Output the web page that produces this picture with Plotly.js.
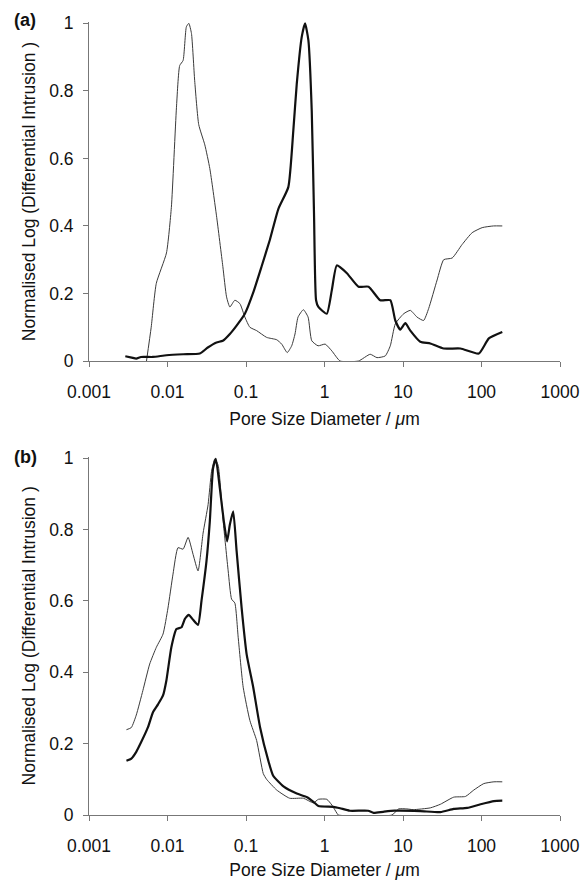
<!DOCTYPE html>
<html>
<head>
<meta charset="utf-8">
<script src="https://cdn.plot.ly/plotly-3.0.1.min.js"></script>
<style>html,body{margin:0;padding:0;background:#fff;}#chart{width:585px;height:880px;}</style>
</head>
<body>
<div id="chart"></div>
<script>
// Tick labels
const xTickVals = [0.001, 0.01, 0.1, 1, 10, 100, 1000];
const xTickText = ["0.001", "0.01", "0.1", "1", "10", "100", "1000"];
const yTickVals = [0, 0.2, 0.4, 0.6, 0.8, 1];
const yTickText = ["0", "0.2", "0.4", "0.6", "0.8", "1"];

// Panel (a) thin curve
const aThinX = [0.0054,0.0062,0.0072,0.0097,0.0112,0.0130,0.0143,0.0158,0.0174,0.0187,0.0202,0.0222,0.0250,0.0299,0.0346,0.0421,0.0507,0.0565,0.0623,0.0721,0.0836,0.0968,0.112,0.1365,0.183,0.246,0.285,0.335,0.382,0.421,0.460,0.538,0.618,0.688,0.828,1.02,1.24,1.58,2.71,3.82,4.66,5.94,6.89,7.98,10.2,12.4,15.1,18.3,21.2,27.2,33.0,42.3,56.6,76.0,102,142,184];
const aThinY = [0,0.10,0.23,0.32,0.455,0.75,0.875,0.89,0.99,1.0,0.97,0.83,0.70,0.64,0.57,0.43,0.28,0.19,0.16,0.18,0.17,0.13,0.10,0.09,0.07,0.063,0.05,0.025,0.045,0.08,0.13,0.152,0.13,0.06,0.045,0.05,0.03,0,0,0.02,0.01,0.015,0.045,0.11,0.14,0.15,0.13,0.12,0.155,0.24,0.30,0.305,0.345,0.38,0.395,0.40,0.40];

// Panel (a) thick curve
const aThickX = [0.0029,0.0035,0.0040,0.0046,0.0065,0.0097,0.0158,0.0258,0.0326,0.0421,0.0507,0.0623,0.0759,0.0968,0.1225,0.158,0.202,0.258,0.346,0.400,0.443,0.513,0.565,0.623,0.688,0.736,0.781,0.836,1.07,1.24,1.435,1.93,2.71,3.64,5.13,6.89,7.98,9.24,10.7,12.4,16.6,22.3,33.0,53.9,92.4,124,184];
const aThickY = [0.014,0.010,0.007,0.012,0.012,0.017,0.020,0.022,0.040,0.055,0.060,0.080,0.105,0.140,0.200,0.280,0.360,0.450,0.515,0.680,0.820,0.960,1.000,0.950,0.740,0.430,0.180,0.160,0.140,0.210,0.283,0.260,0.220,0.220,0.180,0.180,0.120,0.093,0.112,0.090,0.057,0.052,0.037,0.037,0.022,0.067,0.086];

// Panel (b) thin curve
const bThinX = [0.0030,0.00346,0.0040,0.00486,0.00593,0.00721,0.00877,0.01014,0.01175,0.0136,0.0158,0.0183,0.0212,0.0245,0.0284,0.0329,0.0364,0.0401,0.0442,0.0512,0.0593,0.0655,0.0721,0.0795,0.0921,0.112,0.1365,0.166,0.183,0.246,0.36,0.538,0.722,0.836,1.07,1.24,1.44,1.5,7.24,8.79,11.2,13.5,22.3,29.9,44.3,62.5,79.8,107,144,184];
const bThinY = [0.239,0.245,0.28,0.349,0.423,0.47,0.507,0.58,0.675,0.749,0.745,0.778,0.73,0.684,0.79,0.87,0.963,0.998,0.98,0.823,0.684,0.605,0.594,0.498,0.358,0.265,0.209,0.116,0.10,0.07,0.047,0.047,0.034,0.044,0.044,0.028,0.005,0,0,0.017,0.017,0.015,0.02,0.03,0.05,0.052,0.07,0.088,0.093,0.093];

// Panel (b) thick curve
const bThickX = [0.0030,0.00346,0.0040,0.00464,0.00564,0.00653,0.00757,0.00877,0.00968,0.0112,0.0130,0.01506,0.0166,0.01866,0.0212,0.0245,0.0271,0.0314,0.0346,0.0381,0.0413,0.0464,0.0522,0.0575,0.0623,0.0687,0.0759,0.0879,0.1018,0.1236,0.151,0.192,0.222,0.30,0.443,0.60,0.722,0.836,1.3,1.58,2.1,3.6,4.22,5.6,7.8,16.6,29.9,44.3,65.7,97.1,144,184];
const bThickY = [0.152,0.158,0.177,0.205,0.246,0.288,0.31,0.335,0.377,0.47,0.521,0.526,0.549,0.561,0.547,0.533,0.6,0.712,0.823,0.972,0.998,0.916,0.823,0.767,0.814,0.851,0.74,0.581,0.451,0.358,0.246,0.153,0.11,0.08,0.06,0.05,0.037,0.025,0.023,0.019,0.012,0.012,0.006,0.009,0.012,0.011,0.008,0.017,0.02,0.03,0.039,0.04];

const FONT = "Liberation Sans, Arial, Helvetica, sans-serif";
const FS = 17.5;
const thin = {color: "#3a3a3a", width: 1, shape: "spline", smoothing: 0.5};
const thick = {color: "#111111", width: 2.2, shape: "spline", smoothing: 0.5};

const traces = [
  {x: aThinX, y: aThinY, xaxis: "x", yaxis: "y", mode: "lines", line: thin, hoverinfo: "skip"},
  {x: aThickX, y: aThickY, xaxis: "x", yaxis: "y", mode: "lines", line: thick, hoverinfo: "skip"},
  {x: bThinX, y: bThinY, xaxis: "x2", yaxis: "y2", mode: "lines", line: thin, hoverinfo: "skip"},
  {x: bThickX, y: bThickY, xaxis: "x2", yaxis: "y2", mode: "lines", line: thick, hoverinfo: "skip"}
];

function xAxis(anchor) {
  return {
    type: "log", range: [-3, 3], anchor: anchor, domain: [0, 1],
    tickmode: "array", tickvals: xTickVals, ticktext: xTickText,
    ticks: "outside", ticklen: 5, tickwidth: 1, tickcolor: "#777",
    showline: true, linecolor: "#777", linewidth: 1,
    showgrid: false, zeroline: false,
    tickfont: {family: FONT, size: FS, color: "#111"},
    ticklabelstandoff: 10,
    title: {text: "Pore Size Diameter / <i>μ</i>m", font: {family: FONT, size: FS, color: "#111"}, standoff: 11},
    automargin: false, fixedrange: true
  };
}
function yAxis(anchor, domain) {
  return {
    range: [0, 1.004], anchor: anchor, domain: domain,
    tickmode: "array", tickvals: yTickVals, ticktext: yTickText,
    ticks: "outside", ticklen: 5, tickwidth: 1, tickcolor: "#777",
    showline: true, linecolor: "#777", linewidth: 1,
    showgrid: false, zeroline: false,
    tickfont: {family: FONT, size: FS, color: "#111"},
    ticklabelstandoff: 6,
    title: {text: "Normalised Log (Differential Intrusion )", font: {family: FONT, size: FS, color: "#111"}, standoff: 9},
    automargin: false, fixedrange: true
  };
}

const layout = {
  width: 585, height: 880,
  margin: {l: 89, r: 25, t: 22, b: 65},
  paper_bgcolor: "#fff", plot_bgcolor: "#fff",
  showlegend: false,
  xaxis: xAxis("y"),
  yaxis: yAxis("x", [0.5725, 1]),
  xaxis2: xAxis("y2"),
  yaxis2: yAxis("x2", [0, 0.4518]),
  annotations: [
    {text: "<b>(a)</b>", xref: "paper", yref: "paper", x: -0.1635, y: 1.0025, xanchor: "left", yanchor: "middle", showarrow: false, font: {family: FONT, size: 18, color: "#111"}},
    {text: "<b>(b)</b>", xref: "paper", yref: "paper", x: -0.1635, y: 0.4515, xanchor: "left", yanchor: "middle", showarrow: false, font: {family: FONT, size: 18, color: "#111"}}
  ]
};

Plotly.newPlot("chart", traces, layout, {displayModeBar: false, staticPlot: true});
</script>
</body>
</html>
